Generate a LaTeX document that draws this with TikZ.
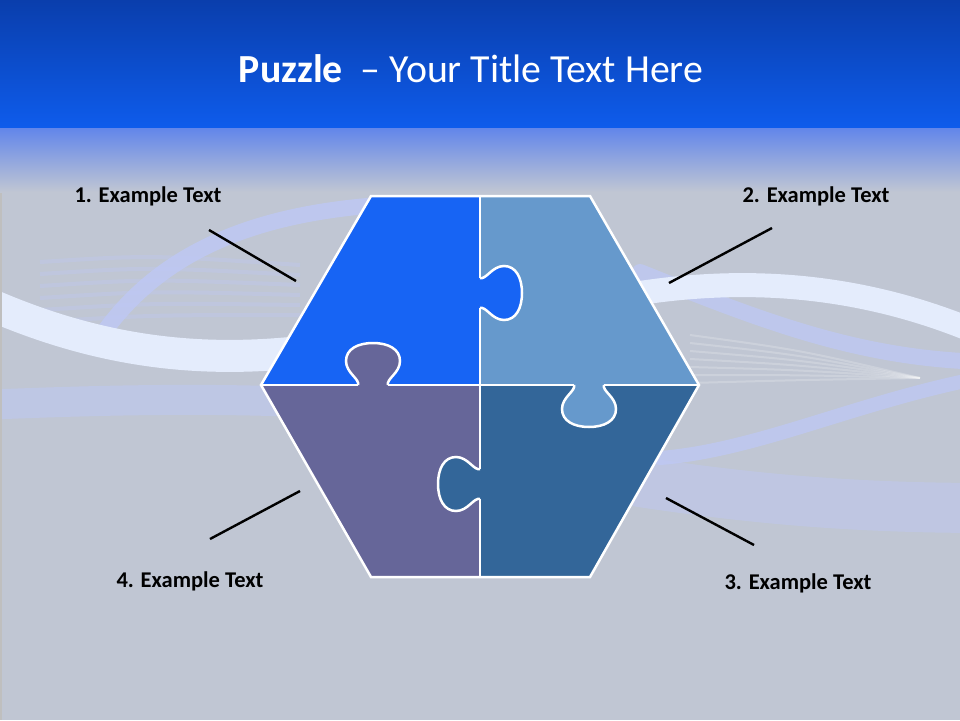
\documentclass[tikz,border=0pt]{standalone}
\usepackage{fontspec}
\setmainfont{Carlito}
\usetikzlibrary{positioning}
\definecolor{bannertop}{RGB}{10,62,172}
\definecolor{bannerbot}{RGB}{14,92,236}
\definecolor{fadetop}{RGB}{98,134,234}
\definecolor{slidegray}{RGB}{192,198,211}
\definecolor{ribbonwhite}{RGB}{228,236,252}
\definecolor{ribbonlav}{RGB}{190,200,245}
\definecolor{pieceA}{RGB}{23,100,244}
\definecolor{pieceB}{RGB}{102,153,204}
\definecolor{pieceC}{RGB}{51,102,153}
\definecolor{pieceD}{RGB}{102,102,153}

\tikzset{
  pics/puzzletab/.style={code={
    \fill[#1] (0,-2) -- (0,0) .. controls (2,6) and (-12,12) .. (-12,24)
      .. controls (-12,36) and (0,42) .. (15,42) .. controls (30,42) and (42,36) .. (42,24)
      .. controls (42,12) and (28,6) .. (30,0) -- (30,-2) -- cycle;
    \draw[seam] (0,0) .. controls (2,6) and (-12,12) .. (-12,24)
      .. controls (-12,36) and (0,42) .. (15,42) .. controls (30,42) and (42,36) .. (42,24)
      .. controls (42,12) and (28,6) .. (30,0);
  }}
}

\begin{document}
\begin{tikzpicture}[
    x=1pt, y=-1pt,
    seam/.style={draw=white, line width=2.5pt},
    callout/.style={draw=black, line width=2.4pt},
    calltext/.style={font=\bfseries\fontsize{22.5}{26}\selectfont, anchor=base, inner sep=0pt},
    headline/.style={font=\fontsize{39.8}{44}\selectfont, text=white, anchor=base, inner sep=0pt},
    ribbon/.style={line cap=round}
  ]
  \useasboundingbox (0,0) rectangle (960,720);

  % background
  \fill[slidegray] (0,0) rectangle (960,720);
  \draw[ribbon, draw=ribbonlav, opacity=.45, line width=50pt] (640,482) .. controls (760,500) and (860,508) .. (990,508);
  \draw[ribbon, draw=ribbonlav, opacity=.5, line width=30pt] (-20,405) .. controls (100,400) and (200,398) .. (300,402);
  \foreach \k in {0,...,5}
    \draw[ribbonlav, opacity=.35, line width=4pt] (40,262+\k*12) .. controls (150,255+\k*12) .. (300,265+\k*10);
  \foreach \k in {0,...,6}
    \draw[white, opacity=.2, line width=2pt] (690,335+\k*8) .. controls (800,350+\k*5) .. (920,378);
  \draw[ribbon, draw=ribbonlav, opacity=.8, line width=16pt] (95,345) .. controls (150,260) and (240,215) .. (380,205);
  \draw[ribbon, draw=ribbonlav, opacity=.75, line width=16pt] (640,272) .. controls (760,320) and (860,360) .. (990,362);
  \draw[ribbon, draw=ribbonlav, opacity=.75, line width=14pt] (990,376) .. controls (860,400) and (760,450) .. (660,458);
  \draw[draw=ribbonwhite, line width=32pt] (-20,300) .. controls (80,345) and (180,365) .. (300,352);
  \draw[draw=ribbonwhite, line width=24pt] (640,293) .. controls (740,278) and (860,280) .. (990,338);
  \draw[black!25, line width=1.5pt] (0.75,128) -- (0.75,720);

  % title banner
  \shade[top color=bannertop, bottom color=bannerbot] (0,0) rectangle (960,128);
  \shade[top color=fadetop, bottom color=slidegray] (0,128) rectangle (960,192);
  \node[headline] (title) at (471,82) {\textbf{Puzzle}~ – Your Title Text Here};

  % puzzle pieces
  \fill[pieceA] (371,196) -- (480,196) -- (480,385) -- (261,385) -- cycle;
  \fill[pieceB] (480,196) -- (590,196) -- (699,385) -- (480,385) -- cycle;
  \fill[pieceC] (480,385) -- (699,385) -- (590,577) -- (480,577) -- cycle;
  \fill[pieceD] (261,385) -- (480,385) -- (480,577) -- (371,577) -- cycle;
  \begin{scope}[shift={(480,278)}, x={(0pt,-1pt)}, y={(1pt,0pt)}]
    \pic {puzzletab=pieceA};
  \end{scope}
  \begin{scope}[shift={(358,385)}, x={(1pt,0pt)}, y={(0pt,1pt)}]
    \pic {puzzletab=pieceD};
  \end{scope}
  \begin{scope}[shift={(574,385)}, x={(1pt,0pt)}, y={(0pt,-1pt)}]
    \pic {puzzletab=pieceB};
  \end{scope}
  \begin{scope}[shift={(480,469)}, x={(0pt,-1pt)}, y={(-1pt,0pt)}]
    \pic {puzzletab=pieceC};
  \end{scope}
  \draw[seam] (480,196) -- (480,278) (480,308) -- (480,469) (480,499) -- (480,577);
  \draw[seam] (261,385) -- (358,385) (388,385) -- (574,385) (604,385) -- (699,385);
  \draw[seam] (371,196) -- (590,196) -- (699,385) -- (590,577) -- (371,577) -- (261,385) -- cycle;

  % labels
  \node[calltext] (t1) at (148,202) {1. Example Text};
  \node[calltext] (t2) at (816,202) {2. Example Text};
  \node[calltext] (t3) at (798,589) {3. Example Text};
  \node[calltext] (t4) at (190,587) {4. Example Text};

  \coordinate (c1a) at (209,230); \coordinate (c1b) at (296,281);
  \coordinate (c2a) at (772,228); \coordinate (c2b) at (669,283);
  \coordinate (c3a) at (754,545); \coordinate (c3b) at (666,498);
  \coordinate (c4a) at (210,539); \coordinate (c4b) at (300,491);
  \draw[callout] (c1a) -- (c1b);
  \draw[callout] (c2a) -- (c2b);
  \draw[callout] (c3a) -- (c3b);
  \draw[callout] (c4a) -- (c4b);
\end{tikzpicture}
\end{document}
